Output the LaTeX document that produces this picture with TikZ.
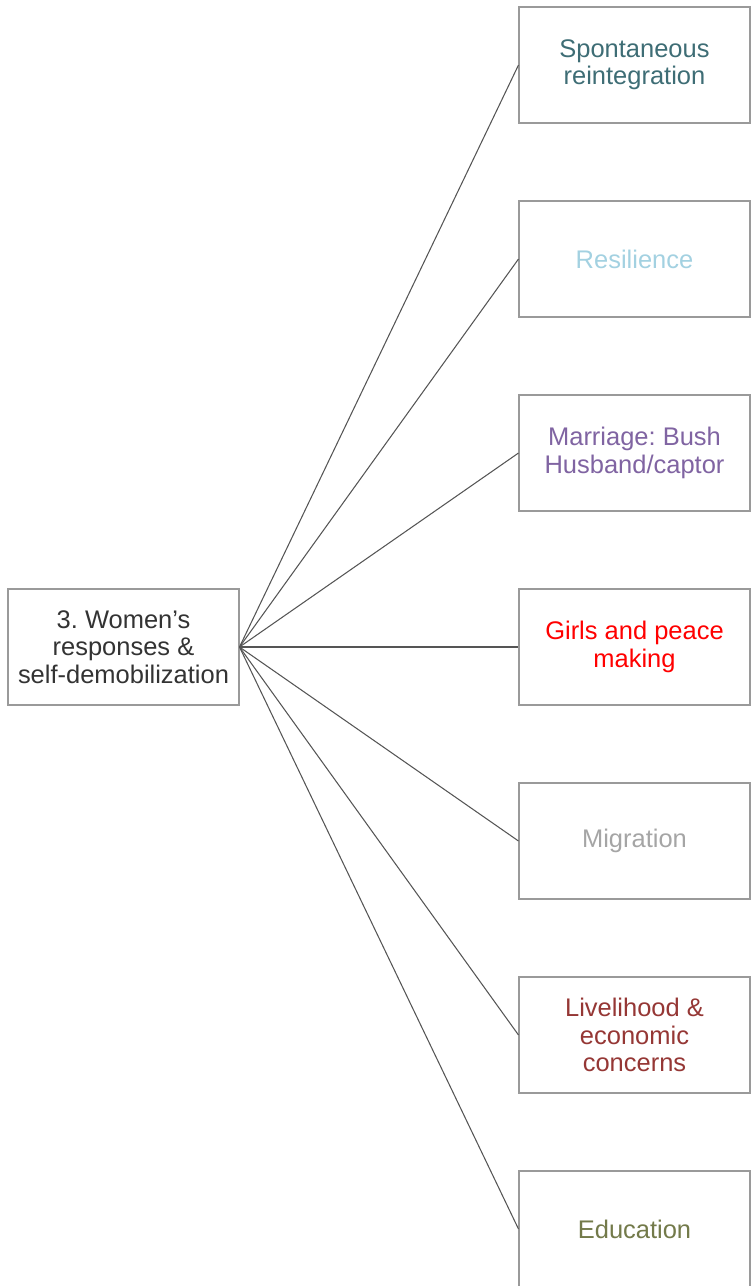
\documentclass[tikz,border=0pt]{standalone}
\usepackage{fontspec}
\setmainfont{Liberation Sans}
\frenchspacing
\definecolor{tealtxt}{HTML}{3E6D75}
\definecolor{bluetxt}{HTML}{A3D1E1}
\definecolor{purpletxt}{HTML}{8064A2}
\definecolor{redtxt}{HTML}{FF0000}
\definecolor{graytxt}{HTML}{A5A5A5}
\definecolor{browntxt}{HTML}{953735}
\definecolor{olivetxt}{HTML}{737A4A}
\definecolor{boxline}{HTML}{9A9A9A}
\definecolor{edgeline}{HTML}{555555}
\tikzset{
  topic/.style={draw=boxline, line width=0.6pt, rectangle, inner sep=0pt,
    minimum width=4.62cm, minimum height=2.32cm, align=center,
    font=\fontsize{14.5}{15.6}\selectfont},
  spoke/.style={draw=edgeline, line width=0.6pt}
}
\begin{document}
\begin{tikzpicture}[x=0.02cm, y=-0.02cm]
            \useasboundingbox (0,0) rectangle (751,1286);
            % root and its seven themes

            \node[topic, text=black!80] (root) at (123.5, 647) {3. Women's\\responses \&\\self-demobilization};
            \node[topic, text=tealtxt] (spont) at (634.5, 65) {Spontaneous\\reintegration};
            \node[topic, text=bluetxt] (resil) at (634.5, 259) {Resilience};
            \node[topic, text=purpletxt] (marr) at (634.5, 453) {Marriage: Bush\\Husband/captor};
            \node[topic, text=redtxt] (peace) at (634.5, 647) {Girls and peace\\making};
            \node[topic, text=graytxt] (migr) at (634.5, 841) {Migration};
            \node[topic, text=browntxt] (liveli) at (634.5, 1035) {Livelihood \&\\economic\\concerns};
            \node[topic, text=olivetxt] (educ) at (634.5, 1229) {Education};

            \draw[spoke] (root.east) -- (spont.west);
            \draw[spoke] (root.east) -- (resil.west);
            \draw[spoke] (root.east) -- (marr.west);
            \draw[spoke] (root.east) -- (peace.west);
            \draw[spoke] (root.east) -- (migr.west);
            \draw[spoke] (root.east) -- (liveli.west);
            \draw[spoke] (root.east) -- (educ.west);
        \end{tikzpicture}
\end{document}
